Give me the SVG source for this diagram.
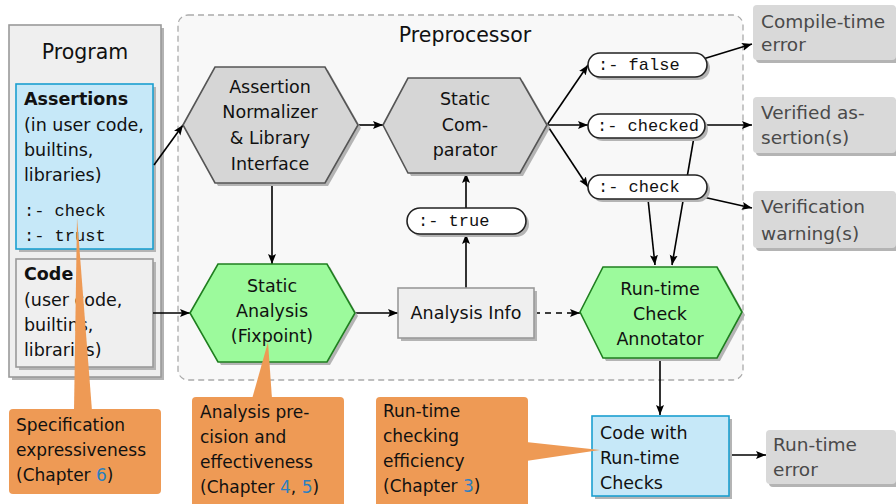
<svg xmlns="http://www.w3.org/2000/svg" width="896" height="504" viewBox="0 0 896 504">
<style>
text{font-family:"DejaVu Sans","Liberation Sans",sans-serif;font-size:17.5px;fill:#111}
.mono{font-family:"Liberation Mono","DejaVu Sans Mono",monospace;font-size:17px}
.big{font-size:20.5px}
.b{font-weight:bold}
.out{fill:#4a4a4a;font-size:18.5px}
.cl{font-size:17px}
.ch{fill:#2a7fc0}
.sh{fill:#b4b4b4}
.gray{fill:#d6d6d6;stroke:#555;stroke-width:1.6}
.green{fill:#9cfa9c;stroke:#1f7f1f;stroke-width:1.6}
.blue{fill:#c6e8f8;stroke:#1b9fd0;stroke-width:1.6}
.light{fill:#efefef;stroke:#9a9a9a;stroke-width:1.6}
.outbox{fill:#d9d9d9}
.pill{fill:#fff;stroke:#222;stroke-width:1.6}
.call{fill:#ee9a55}
.ln{stroke:#000;stroke-width:1.6;fill:none}
.ar{marker-end:url(#ah)}
.dash{stroke-dasharray:6,5}
</style>
<defs>
<marker id="ah" viewBox="0 0 10 10" refX="10" refY="5" markerWidth="10" markerHeight="10" markerUnits="userSpaceOnUse" orient="auto">
<path d="M0,1 L10,5 L0,9 L2,5 z" fill="#000"/>
</marker>
</defs>

<g id="program">
<rect x="12" y="28" width="152" height="352" class="sh"/>
<rect x="9" y="25" width="152" height="352" class="light"/>
<text x="85" y="59" text-anchor="middle" class="big">Program</text>
</g>

<g id="preprocessor">
<rect x="178" y="15" width="565" height="365" rx="10" fill="#f8f8f8" stroke="#aaa" stroke-width="1.3" stroke-dasharray="6,4"/>
<text x="465" y="42" text-anchor="middle" class="big">Preprocessor</text>
</g>

<g id="assertions">
<rect x="19" y="87" width="137" height="165" class="sh"/>
<rect x="16" y="84" width="137" height="165" class="blue"/>
<text x="24" y="105" class="b">Assertions</text>
<text x="24" y="131">(in user code,</text>
<text x="24" y="156">builtins,</text>
<text x="24" y="181">libraries)</text>
<text x="24" y="216" class="mono">:- check</text>
<text x="24" y="241" class="mono">:- trust</text>
</g>

<g id="code">
<rect x="19" y="262" width="137" height="108" class="sh"/>
<rect x="16" y="259" width="137" height="108" class="light"/>
<text x="24" y="280" class="b">Code</text>
<text x="24" y="306">(user code,</text>
<text x="24" y="331">builtins,</text>
<text x="24" y="356">libraries)</text>
</g>

<g id="connectors">
<line x1="154" y1="165" x2="183" y2="125" class="ln ar"/>
<line x1="153" y1="313" x2="190" y2="313" class="ln ar"/>
<line x1="358" y1="125" x2="383" y2="125" class="ln ar"/>
<line x1="272" y1="183" x2="272" y2="264" class="ln ar"/>
<line x1="355" y1="313" x2="398" y2="313" class="ln ar"/>
<line x1="466" y1="288" x2="466" y2="234" class="ln ar"/>
<line x1="466" y1="208" x2="466" y2="173" class="ln ar"/>
<line x1="534" y1="313" x2="580" y2="313" class="ln ar dash"/>
<line x1="547" y1="125" x2="588" y2="65" class="ln ar"/>
<line x1="547" y1="125" x2="588" y2="125" class="ln ar"/>
<line x1="547" y1="125" x2="588" y2="187" class="ln ar"/>
<line x1="703" y1="59" x2="752" y2="44" class="ln ar"/>
<line x1="705" y1="125" x2="752" y2="125" class="ln ar"/>
<line x1="703" y1="197" x2="752" y2="208" class="ln ar"/>
<line x1="694" y1="137" x2="672" y2="265" class="ln ar"/>
<line x1="648" y1="199" x2="655" y2="265" class="ln ar"/>
<line x1="660" y1="358" x2="660" y2="415" class="ln ar"/>
<line x1="729" y1="455" x2="766" y2="455" class="ln ar"/>
</g>

<g id="normalizer">
<polygon points="186,128 218,70 328,70 361,128 328,186 218,186" class="sh"/>
<polygon points="183,125 215,67 325,67 358,125 325,183 215,183" class="gray"/>
<text x="270" y="93" text-anchor="middle">Assertion</text>
<text x="270" y="118" text-anchor="middle">Normalizer</text>
<text x="270" y="144" text-anchor="middle">&amp; Library</text>
<text x="270" y="170" text-anchor="middle">Interface</text>
</g>

<g id="comparator">
<polygon points="386,128 411,81 523,81 550,128 523,176 411,176" class="sh"/>
<polygon points="383,125 408,78 520,78 547,125 520,173 408,173" class="gray"/>
<text x="465" y="105" text-anchor="middle">Static</text>
<text x="465" y="131" text-anchor="middle">Com-</text>
<text x="465" y="156" text-anchor="middle">parator</text>
</g>

<g id="static-analysis">
<polygon points="193,316 221,267 330,267 358,316 330,365 221,365" class="sh"/>
<polygon points="190,313 218,264 327,264 355,313 327,362 218,362" class="green"/>
<text x="272" y="292" text-anchor="middle">Static</text>
<text x="272" y="317" text-anchor="middle">Analysis</text>
<text x="272" y="342" text-anchor="middle">(Fixpoint)</text>
</g>

<g id="analysis-info">
<rect x="401" y="291" width="136" height="50" class="sh"/>
<rect x="398" y="288" width="136" height="50" class="light"/>
<text x="466" y="319" text-anchor="middle">Analysis Info</text>
</g>

<g id="true">
<rect x="410" y="211" width="119" height="26" rx="13" class="sh"/>
<rect x="407" y="208" width="119" height="26" rx="13" class="pill"/>
<text x="418" y="226" class="mono">:- true</text>
</g>

<g id="false">
<rect x="591" y="56" width="119" height="24" rx="12" class="sh"/>
<rect x="588" y="53" width="119" height="24" rx="12" class="pill"/>
<text x="598" y="70" class="mono">:- false</text>
</g>

<g id="checked">
<rect x="591" y="117" width="117" height="24" rx="12" class="sh"/>
<rect x="588" y="114" width="117" height="24" rx="12" class="pill"/>
<text x="597" y="131" class="mono">:- checked</text>
</g>

<g id="check">
<rect x="591" y="178" width="119" height="24" rx="12" class="sh"/>
<rect x="588" y="175" width="119" height="24" rx="12" class="pill"/>
<text x="598" y="192" class="mono">:- check</text>
</g>

<g id="annotator">
<polygon points="583,315 606,270 720,270 745,315 720,361 606,361" class="sh"/>
<polygon points="580,312 603,267 717,267 742,312 717,358 603,358" class="green"/>
<text x="660" y="295" text-anchor="middle">Run-time</text>
<text x="660" y="320" text-anchor="middle">Check</text>
<text x="660" y="345" text-anchor="middle">Annotator</text>
</g>

<g id="code-rtc">
<rect x="595" y="419" width="137" height="80" class="sh"/>
<rect x="592" y="416" width="137" height="80" class="blue"/>
<text x="600" y="439">Code with</text>
<text x="600" y="464">Run-time</text>
<text x="600" y="489">Checks</text>
</g>

<g id="compile-error">
<rect x="756" y="8" width="143" height="55" rx="4" class="sh"/>
<rect x="753" y="5" width="143" height="55" rx="4" class="outbox"/>
<text x="761" y="28" class="out">Compile-time</text>
<text x="761" y="51" class="out">error</text>
</g>

<g id="verified">
<rect x="756" y="100" width="143" height="56" rx="4" class="sh"/>
<rect x="753" y="97" width="143" height="56" rx="4" class="outbox"/>
<text x="761" y="119" class="out">Verified as-</text>
<text x="761" y="144" class="out">sertion(s)</text>
</g>

<g id="warning">
<rect x="756" y="194" width="143" height="57" rx="4" class="sh"/>
<rect x="753" y="191" width="143" height="57" rx="4" class="outbox"/>
<text x="761" y="213" class="out">Verification</text>
<text x="761" y="240" class="out">warning(s)</text>
</g>

<g id="runtime-error">
<rect x="769" y="433" width="130" height="54" rx="4" class="sh"/>
<rect x="766" y="430" width="130" height="54" rx="4" class="outbox"/>
<text x="773" y="451" class="out">Run-time</text>
<text x="773" y="476" class="out">error</text>
</g>

<g id="callout-spec">
<polygon points="74,411 77,217 92,411" class="call"/>
<rect x="9" y="409" width="152" height="85" rx="4" class="call"/>
<text x="16" y="431" class="cl">Specification</text>
<text x="16" y="456" class="cl">expressiveness</text>
<text x="16" y="481" class="cl">(Chapter <tspan class="ch">6</tspan>)</text>
</g>

<g id="callout-analysis">
<polygon points="252,399 268,342 272,399" class="call"/>
<rect x="192" y="397" width="152" height="112" rx="4" class="call"/>
<text x="200" y="418" class="cl">Analysis pre-</text>
<text x="200" y="443" class="cl">cision and</text>
<text x="200" y="468" class="cl">effectiveness</text>
<text x="200" y="493" class="cl">(Chapter <tspan class="ch">4</tspan>, <tspan class="ch">5</tspan>)</text>
</g>

<g id="callout-rtc">
<polygon points="526,442 600,450 526,461" class="call"/>
<rect x="376" y="397" width="152" height="112" rx="4" class="call"/>
<text x="383" y="417" class="cl">Run-time</text>
<text x="383" y="442" class="cl">checking</text>
<text x="383" y="467" class="cl">efficiency</text>
<text x="383" y="492" class="cl">(Chapter <tspan class="ch">3</tspan>)</text>
</g>
</svg>
